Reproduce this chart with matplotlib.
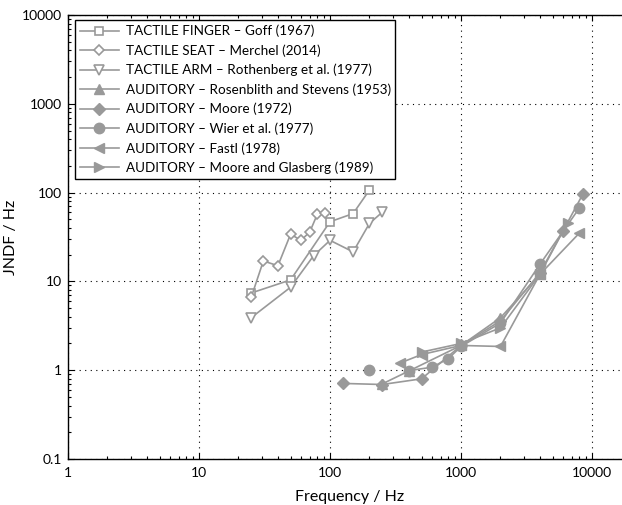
import numpy as np
import matplotlib.pyplot as plt

# =========================
# Data
# =========================
finger_f = [25, 50, 100, 150, 200]
finger_v = [7.4, 10.4, 47, 58, 107]

seat_f = [25, 31, 40, 50, 60, 70, 80, 92]
seat_v = [6.6, 17, 15, 34, 29, 36, 57, 59]

arm_f = [25, 50, 75, 100, 150, 200, 250]
arm_v = [3.9, 8.6, 19.5, 29, 21.5, 45, 60]

rosen_f = [250, 400, 1000, 2000, 4000]
rosen_v = [0.70, 0.98, 1.9, 3.9, 12.0]

moore_f = [125, 250, 500, 1000, 2000, 4000, 6000, 8500]
moore_v = [0.71, 0.69, 0.80, 1.9, 3.6, 12.5, 37, 96]

wier_f = [200, 400, 600, 800, 1000, 2000, 4000, 8000]
wier_v = [1.0, 0.99, 1.08, 1.35, 1.85, 3.4, 15.6, 67]

fastl_f = [340, 500, 1000, 2000, 4000, 8000]
fastl_v = [1.2, 1.5, 1.9, 1.85, 12.0, 35]

mg_f = [500, 1000, 2000, 4000, 6500]
mg_v = [1.6, 2.0, 3.0, 12.0, 46]

labels = [
    "TACTILE FINGER \u2013 Goff (1967)",
    "TACTILE SEAT \u2013 Merchel (2014)",
    "TACTILE ARM \u2013 Rothenberg et al. (1977)",
    "AUDITORY \u2013 Rosenblith and Stevens (1953)",
    "AUDITORY \u2013 Moore (1972)",
    "AUDITORY \u2013 Wier et al. (1977)",
    "AUDITORY \u2013 Fastl (1978)",
    "AUDITORY \u2013 Moore and Glasberg (1989)",
]

# =========================
# Plot settings
# =========================
plt.rcParams["font.family"] = ["Lato", "DejaVu Sans"]
gray = "#999999"

fig = plt.figure(figsize=(6.22, 5.05), dpi=100)
ax = fig.add_axes([68 / 622, 46 / 505, 563.5 / 622, 444 / 505])

open_style = dict(color=gray, lw=1.2, mfc="white", mec=gray, mew=1.2, ms=6)
fill_style = dict(color=gray, lw=1.2, mfc=gray, mec=gray, ms=7.5)

ax.plot(finger_f, finger_v, marker="s", label=labels[0], **open_style)
ax.plot(seat_f, seat_v, marker="D", label=labels[1], **{**open_style, "ms": 5.5})
ax.plot(arm_f, arm_v, marker="v", label=labels[2], **{**open_style, "ms": 7})
ax.plot(rosen_f, rosen_v, marker="^", label=labels[3], **fill_style)
ax.plot(moore_f, moore_v, marker="D", label=labels[4], **{**fill_style, "ms": 6})
# first Wier point stands alone, no line to it
ax.plot(wier_f[1:], wier_v[1:], marker="o", label=labels[5], **fill_style)
ax.plot(wier_f[:1], wier_v[:1], marker="o", ls="none", **fill_style)
ax.plot(fastl_f, fastl_v, marker="<", label=labels[6], **fill_style)
ax.plot(mg_f, mg_v, marker=">", label=labels[7], **fill_style)

ax.set_xscale("log")
ax.set_yscale("log")
ax.set_xlim(1, 20000)
ax.set_ylim(0.1, 10000)

ax.set_xticks([1, 10, 100, 1000, 10000])
ax.set_xticklabels(["1", "10", "100", "1000", "10000"])
ax.set_yticks([0.1, 1, 10, 100, 1000, 10000])
ax.set_yticklabels(["0.1", "1", "10", "100", "1000", "10000"])

ax.tick_params(which="both", direction="in", top=True, right=True,
               labelsize=10, color="black", width=0.8)
ax.tick_params(which="major", length=4)
ax.tick_params(which="minor", length=2)
ax.tick_params(axis="x", pad=6)
ax.tick_params(axis="y", pad=4)

for s in ax.spines.values():
    s.set_linewidth(1.0)

ax.grid(True, which="major", color="black", linestyle=(0, (1, 4)), linewidth=0.8)

ax.set_xlabel("Frequency / Hz", fontsize=11.5, labelpad=8)
ax.set_ylabel("JNDF / Hz", fontsize=11.5)
ax.yaxis.set_label_coords(-50 / 563.5, 0.5)

leg = ax.legend(loc="upper left", bbox_to_anchor=(7 / 563.5, 1 - 5 / 444),
                borderaxespad=0, fontsize=9.7, handlelength=2.9,
                labelspacing=0.52, handletextpad=0.5, borderpad=0.35,
                fancybox=False, framealpha=1, edgecolor="black")
leg.get_frame().set_linewidth(1.0)

# =========================
# Save figure
# =========================
fig.savefig("out.png", dpi=100)
